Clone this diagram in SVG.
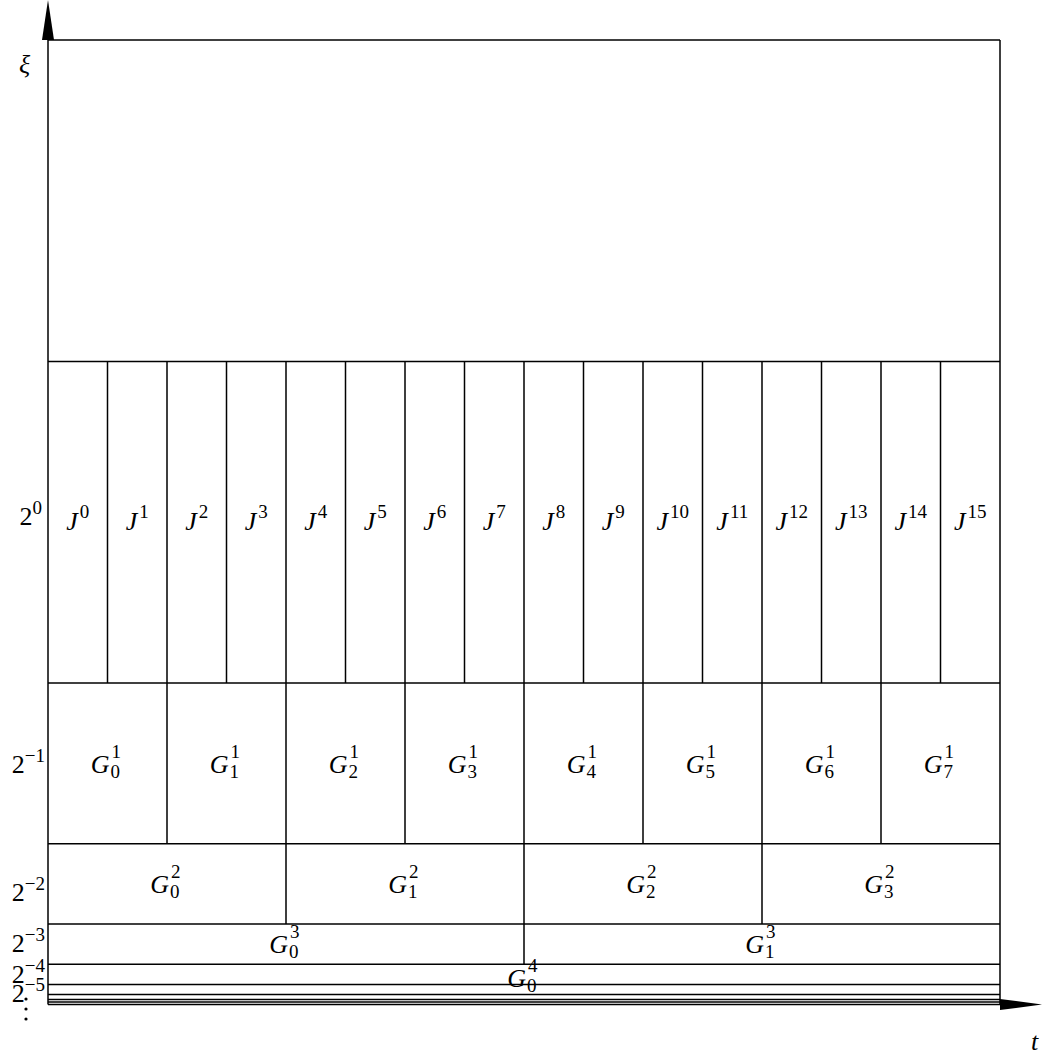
<svg xmlns="http://www.w3.org/2000/svg" width="1042" height="1057" viewBox="0 0 1042 1057">
<style>
.ln{stroke:#000;stroke-width:1.5;fill:none}
text{font-family:"Liberation Serif","DejaVu Serif",serif;fill:#000}
.it{font-style:italic}
.lb{font-size:26px}
.sc{font-size:19px;font-style:normal}
</style>
<rect width="1042" height="1057" fill="#fff"/>
<g id="axes">
<line class="ln" x1="48" y1="1004.5" x2="48" y2="30"/>
<polygon points="48,0 42,40 54,40" fill="#000"/>
<line class="ln" x1="48" y1="1004.5" x2="1010" y2="1004.5"/>
<polygon points="1042,1004.5 1000,999 1000,1010" fill="#000"/>
<text class="lb it" x="19" y="73" font-size="28">ξ</text>
<text class="lb it" x="1031" y="1050">t</text>
</g>
<g id="grid">
<line class="ln" x1="48" y1="40" x2="1000" y2="40"/>
<line class="ln" x1="1000" y1="40" x2="1000" y2="1004.5"/>
<line class="ln" x1="48" y1="361.5" x2="1000" y2="361.5"/>
<line class="ln" x1="48" y1="683" x2="1000" y2="683"/>
<line class="ln" x1="48" y1="843.75" x2="1000" y2="843.75"/>
<line class="ln" x1="48" y1="924.1" x2="1000" y2="924.1"/>
<line class="ln" x1="48" y1="964.3" x2="1000" y2="964.3"/>
<line class="ln" x1="48" y1="984.4" x2="1000" y2="984.4"/>
<line class="ln" x1="48" y1="994.5" x2="1000" y2="994.5"/>
<line class="ln" x1="48" y1="999.5" x2="1000" y2="999.5"/>
<line class="ln" x1="48" y1="1002" x2="1000" y2="1002"/>
<path class="ln" d="M107.5 361.5V683M167 361.5V843.75M226.5 361.5V683M286 361.5V924.1M345.5 361.5V683M405 361.5V843.75M464.5 361.5V683M524 361.5V964.3M583.5 361.5V683M643 361.5V843.75M702.5 361.5V683M762 361.5V924.1M821.5 361.5V683M881 361.5V843.75M940.5 361.5V683"/>
</g>
<g id="ylabels" class="lb" text-anchor="end">
<text x="42" y="525">2<tspan class="sc" dy="-11">0</tspan></text>
<text x="45" y="773">2<tspan class="sc" dy="-11">−1</tspan></text>
<text x="45" y="901">2<tspan class="sc" dy="-11">−2</tspan></text>
<text x="45" y="952">2<tspan class="sc" dy="-11">−3</tspan></text>
<text x="45" y="983">2<tspan class="sc" dy="-11">−4</tspan></text>
<text x="45" y="1002">2<tspan class="sc" dy="-11">−5</tspan></text>
<circle cx="26" cy="999" r="1.6" fill="#000"/>
<circle cx="26" cy="1009" r="1.6" fill="#000"/>
<circle cx="26" cy="1019" r="1.6" fill="#000"/>
</g>
<g id="J" class="lb" text-anchor="middle">
<text x="77.75" y="530"><tspan class="it">J</tspan><tspan class="sc" dx="2" dy="-12">0</tspan></text>
<text x="137.25" y="530"><tspan class="it">J</tspan><tspan class="sc" dx="2" dy="-12">1</tspan></text>
<text x="196.75" y="530"><tspan class="it">J</tspan><tspan class="sc" dx="2" dy="-12">2</tspan></text>
<text x="256.25" y="530"><tspan class="it">J</tspan><tspan class="sc" dx="2" dy="-12">3</tspan></text>
<text x="315.75" y="530"><tspan class="it">J</tspan><tspan class="sc" dx="2" dy="-12">4</tspan></text>
<text x="375.25" y="530"><tspan class="it">J</tspan><tspan class="sc" dx="2" dy="-12">5</tspan></text>
<text x="434.75" y="530"><tspan class="it">J</tspan><tspan class="sc" dx="2" dy="-12">6</tspan></text>
<text x="494.25" y="530"><tspan class="it">J</tspan><tspan class="sc" dx="2" dy="-12">7</tspan></text>
<text x="553.75" y="530"><tspan class="it">J</tspan><tspan class="sc" dx="2" dy="-12">8</tspan></text>
<text x="613.25" y="530"><tspan class="it">J</tspan><tspan class="sc" dx="2" dy="-12">9</tspan></text>
<text x="672.75" y="530"><tspan class="it">J</tspan><tspan class="sc" dx="2" dy="-12">10</tspan></text>
<text x="732.25" y="530"><tspan class="it">J</tspan><tspan class="sc" dx="2" dy="-12">11</tspan></text>
<text x="791.75" y="530"><tspan class="it">J</tspan><tspan class="sc" dx="2" dy="-12">12</tspan></text>
<text x="851.25" y="530"><tspan class="it">J</tspan><tspan class="sc" dx="2" dy="-12">13</tspan></text>
<text x="910.75" y="530"><tspan class="it">J</tspan><tspan class="sc" dx="2" dy="-12">14</tspan></text>
<text x="970.25" y="530"><tspan class="it">J</tspan><tspan class="sc" dx="2" dy="-12">15</tspan></text>
</g>
<defs>
<g id="Gg"><text class="lb it" x="2" y="0" text-anchor="end">G</text></g>
</defs>
<g id="G1" class="lb">
<g transform="translate(107.5,773)"><use href="#Gg"/><text class="sc" x="4" y="-15">1</text><text class="sc" x="3" y="5">0</text></g>
<g transform="translate(226.5,773)"><use href="#Gg"/><text class="sc" x="4" y="-15">1</text><text class="sc" x="3" y="5">1</text></g>
<g transform="translate(345.5,773)"><use href="#Gg"/><text class="sc" x="4" y="-15">1</text><text class="sc" x="3" y="5">2</text></g>
<g transform="translate(464.5,773)"><use href="#Gg"/><text class="sc" x="4" y="-15">1</text><text class="sc" x="3" y="5">3</text></g>
<g transform="translate(583.5,773)"><use href="#Gg"/><text class="sc" x="4" y="-15">1</text><text class="sc" x="3" y="5">4</text></g>
<g transform="translate(702.5,773)"><use href="#Gg"/><text class="sc" x="4" y="-15">1</text><text class="sc" x="3" y="5">5</text></g>
<g transform="translate(821.5,773)"><use href="#Gg"/><text class="sc" x="4" y="-15">1</text><text class="sc" x="3" y="5">6</text></g>
<g transform="translate(940.5,773)"><use href="#Gg"/><text class="sc" x="4" y="-15">1</text><text class="sc" x="3" y="5">7</text></g>
</g>
<g id="G2" class="lb">
<g transform="translate(167,893)"><use href="#Gg"/><text class="sc" x="4" y="-15">2</text><text class="sc" x="3" y="5">0</text></g>
<g transform="translate(405,893)"><use href="#Gg"/><text class="sc" x="4" y="-15">2</text><text class="sc" x="3" y="5">1</text></g>
<g transform="translate(643,893)"><use href="#Gg"/><text class="sc" x="4" y="-15">2</text><text class="sc" x="3" y="5">2</text></g>
<g transform="translate(881,893)"><use href="#Gg"/><text class="sc" x="4" y="-15">2</text><text class="sc" x="3" y="5">3</text></g>
</g>
<g id="G3" class="lb">
<g transform="translate(286,953)"><use href="#Gg"/><text class="sc" x="4" y="-15">3</text><text class="sc" x="3" y="5">0</text></g>
<g transform="translate(762,953)"><use href="#Gg"/><text class="sc" x="4" y="-15">3</text><text class="sc" x="3" y="5">1</text></g>
</g>
<g id="G4" class="lb">
<g transform="translate(524,987)"><use href="#Gg"/><text class="sc" x="4" y="-15">4</text><text class="sc" x="3" y="5">0</text></g>
</g>
</svg>
